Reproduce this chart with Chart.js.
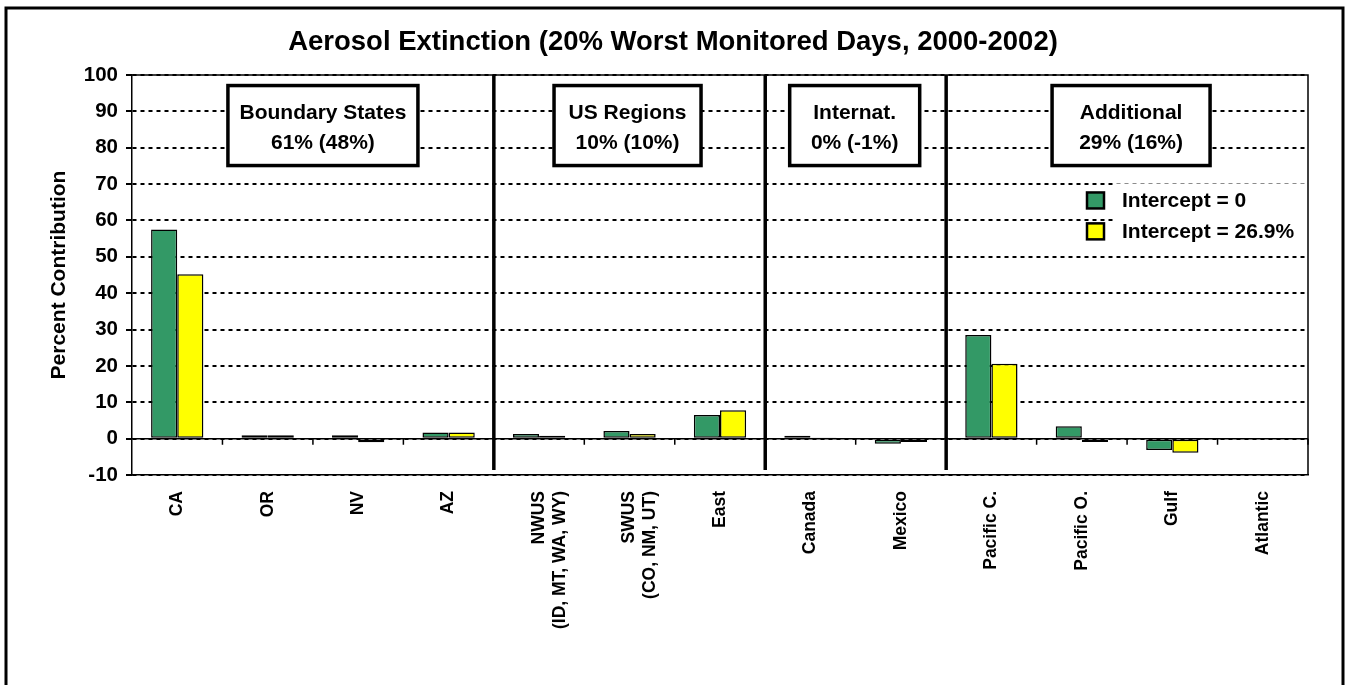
<!DOCTYPE html>
<html>
<head>
<meta charset="utf-8">
<script src="https://cdn.jsdelivr.net/npm/chart.js@4/dist/chart.umd.min.js"></script>
<style>
  html, body { margin: 0; padding: 0; background: #fff; }
  #wrap { width: 1346px; height: 685px; }
</style>
</head>
<body>
<div id="wrap"><canvas id="chart" width="1346" height="685"></canvas></div>
<script>
// categories and values
const categories = ['CA', 'OR', 'NV', 'AZ', ['NWUS', '(ID, MT, WA, WY)'], ['SWUS', '(CO, NM, UT)'],
  'East', 'Canada', 'Mexico', 'Pacific C.', 'Pacific O.', 'Gulf', 'Atlantic'];
const interceptZero = [57.5, 0.9, 0.9, 1.7, 1.3, 2.1, 6.5, 0.8, -1.4, 28.5, 3.4, -3.1, 0];
const interceptFit = [45.2, 0.9, -1.0, 1.7, 0.8, 1.3, 7.8, 0.3, -0.9, 20.6, -0.9, -3.9, 0];
const seriesNames = ['Intercept = 0', 'Intercept = 26.9%'];

const yMin = -10, yMax = 100, yStep = 10;

// source groups
const groupNames = ['Boundary States', 'US Regions', 'Internat.', 'Additional'];
const groupShares = ['61% (48%)', '10% (10%)', '0% (-1%)', '29% (16%)'];
const groupFirst = [0, 4, 7, 9];
const groupLast = [3, 6, 8, 12];

// box look (not data)
const boxWidths = [190, 147, 130, 158];
const boxShift = [10, -2, -1, 4];

const FAMILY = '"Liberation Sans", Arial, sans-serif';
const BOLD = 'bold 21px ' + FAMILY;

const decor = {
  id: 'decor',
  beforeDraw(chart) {
    const ctx = chart.ctx;
    ctx.save();
    ctx.fillStyle = '#fff';
    ctx.fillRect(0, 0, chart.width, chart.height);
    ctx.strokeStyle = '#000';
    ctx.lineWidth = 3;
    ctx.strokeRect(6, 8, 1337, 690);
    ctx.restore();
  },
  beforeDatasetsDraw(chart) {
    const { ctx, chartArea: a, scales: { x, y } } = chart;
    ctx.save();
    ctx.strokeStyle = '#000';
    ctx.lineWidth = 1.5;
    // top and right border
    ctx.beginPath();
    ctx.moveTo(a.left, a.top);
    ctx.lineTo(a.right, a.top);
    ctx.lineTo(a.right, a.bottom);
    ctx.stroke();
    // category axis at zero with tick marks between categories
    const y0 = y.getPixelForValue(0);
    const step = x.getPixelForValue(1) - x.getPixelForValue(0);
    ctx.beginPath();
    ctx.moveTo(a.left, y0);
    ctx.lineTo(a.right, y0);
    for (let i = 1; i <= categories.length; i++) {
      const bx = x.getPixelForValue(i - 1) + step / 2;
      ctx.moveTo(bx, y0);
      ctx.lineTo(bx, y0 + 6);
    }
    ctx.stroke();
    ctx.restore();
  },
  afterDatasetsDraw(chart) {
    const { ctx, chartArea: a, scales: { x, y } } = chart;
    ctx.save();
    ctx.strokeStyle = '#000';
    ctx.lineWidth = 3.5;
    // group dividers
    for (let g = 1; g < groupFirst.length; g++) {
      const bx = (x.getPixelForValue(groupFirst[g] - 1) + x.getPixelForValue(groupFirst[g])) / 2;
      ctx.beginPath();
      ctx.moveTo(bx, a.top);
      ctx.lineTo(bx, y.getPixelForValue(-8.6));
      ctx.stroke();
    }
    // group boxes
    const top = y.getPixelForValue(97.1), bot = y.getPixelForValue(75.1);
    ctx.font = BOLD;
    ctx.textAlign = 'center';
    ctx.textBaseline = 'middle';
    groupNames.forEach((name, g) => {
      const cx = (x.getPixelForValue(groupFirst[g]) + x.getPixelForValue(groupLast[g])) / 2 + boxShift[g];
      const w = boxWidths[g];
      ctx.fillStyle = '#fff';
      ctx.fillRect(cx - w / 2, top, w, bot - top);
      ctx.lineWidth = 3.5;
      ctx.strokeRect(cx - w / 2, top, w, bot - top);
      ctx.fillStyle = '#000';
      const mid = (top + bot) / 2;
      ctx.fillText(name, cx, mid - 12);
      ctx.fillText(groupShares[g], cx, mid + 18);
    });
    // legend
    const lx = a.right - 221;
    const rows = [y.getPixelForValue(65.5), y.getPixelForValue(57)];
    ctx.fillStyle = '#fff';
    ctx.fillRect(lx + 28, rows[0] - 17, a.right - lx - 30, rows[1] - rows[0] + 34);
    ctx.textAlign = 'left';
    chart.data.datasets.forEach((ds, i) => {
      ctx.fillStyle = ds.backgroundColor;
      ctx.fillRect(lx, rows[i] - 8, 17, 16);
      ctx.lineWidth = 2.5;
      ctx.strokeStyle = '#000';
      ctx.strokeRect(lx, rows[i] - 8, 17, 16);
      ctx.fillStyle = '#000';
      ctx.fillText(ds.label, lx + 35, rows[i] + 1);
    });
    ctx.restore();
  }
};

new Chart(document.getElementById('chart'), {
  type: 'bar',
  data: {
    labels: categories,
    datasets: [
      { label: seriesNames[0], data: interceptZero, backgroundColor: '#339966', borderColor: '#000', borderWidth: 1.5, borderSkipped: false },
      { label: seriesNames[1], data: interceptFit, backgroundColor: '#ffff00', borderColor: '#000', borderWidth: 1.5, borderSkipped: false }
    ]
  },
  options: {
    responsive: false,
    animation: false,
    devicePixelRatio: 1,
    layout: { padding: { left: 38, right: 38, top: 8, bottom: 0 } },
    datasets: { bar: { categoryPercentage: 0.578, barPercentage: 1.0 } },
    plugins: {
      legend: { display: false },
      tooltip: { enabled: false },
      title: {
        display: true,
        text: 'Aerosol Extinction (20% Worst Monitored Days, 2000-2002)',
        color: '#000',
        font: { family: FAMILY, size: 27.5, weight: 'bold' },
        padding: { top: 17.5, bottom: 16.5 }
      }
    },
    scales: {
      x: {
        grid: { display: false },
        border: { display: true, color: '#000', width: 1.5 },
        ticks: {
          autoSkip: false, maxRotation: 90, minRotation: 90, padding: 8, color: '#000',
          font: { family: FAMILY, size: 17.5, weight: 'bold' }
        },
        afterFit(scale) { scale.height = 210; }
      },
      y: {
        min: yMin, max: yMax,
        grid: { color: '#000', lineWidth: 2, tickLength: 6 },
        border: { display: true, color: '#000', width: 1.5, dash: [4, 4] },
        ticks: {
          stepSize: yStep, padding: 8, color: '#000',
          font: { family: FAMILY, size: 20.5, weight: 'bold' }
        },
        title: {
          display: true, text: 'Percent Contribution', color: '#000', padding: { top: 8.4, bottom: 0 },
          font: { family: FAMILY, size: 21, weight: 'bold' }
        },
        afterFit(scale) { scale.width = 132 - 38; }
      }
    }
  },
  plugins: [decor]
});
</script>
</body>
</html>
